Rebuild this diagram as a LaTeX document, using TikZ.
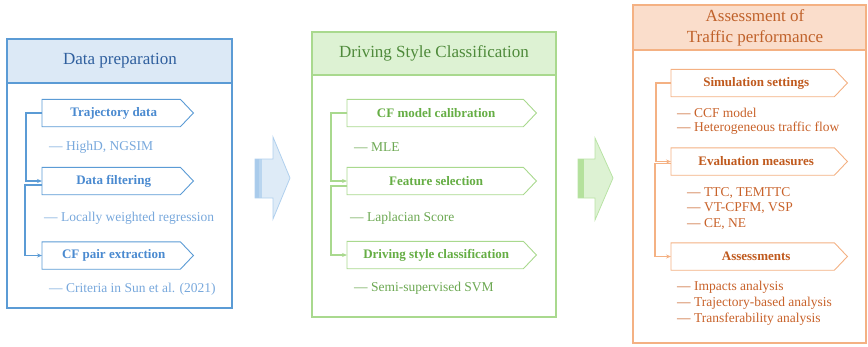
\documentclass[tikz,border=0pt]{standalone}
\usepackage{fontspec}
\setmainfont{Liberation Serif}
\usetikzlibrary{arrows.meta}

% palette
\definecolor{bBorder}{HTML}{5B9BD5}
\definecolor{bHead}{HTML}{DCE9F6}
\definecolor{bTitle}{HTML}{2F5F9E}
\definecolor{bTag}{HTML}{4A8AD0}
\definecolor{bSub}{HTML}{78A8DC}
\definecolor{bArrFill}{HTML}{DEEBF7}
\definecolor{bArrLine}{HTML}{B0D0EE}
\definecolor{bArrStrip}{HTML}{A9CBEB}

\definecolor{gBorder}{HTML}{A9D98E}
\definecolor{gHead}{HTML}{DDF2D3}
\definecolor{gTitle}{HTML}{4E8A3A}
\definecolor{gTag}{HTML}{66AE45}
\definecolor{gSub}{HTML}{6CA852}
\definecolor{gArrFill}{HTML}{DDF2D3}
\definecolor{gArrLine}{HTML}{B9E3A5}
\definecolor{gArrStrip}{HTML}{B4E19C}

\definecolor{oBorder}{HTML}{F4B183}
\definecolor{oHead}{HTML}{FADDCB}
\definecolor{oTitle}{HTML}{C0622B}
\definecolor{oTag}{HTML}{C05A1E}
\definecolor{oSub}{HTML}{C8622A}

\tikzset{
  panel/.style={draw=#1, line width=1.3pt},
  headbox/.style={fill=#1},
  title/.style={text=#1, font=\fontsize{17}{21}\selectfont, align=center, inner sep=0pt},
  tagbox/.style={text=#1, font=\bfseries\fontsize{13}{15}\selectfont,
    minimum height=27pt, inner sep=0pt, anchor=west},
  tagline/.style={draw=#1, line width=0.9pt, fill=white},
  subtext/.style={text=#1, font=\fontsize{13.5}{16}\selectfont, inner sep=0pt, anchor=west},
  link/.style={draw=#1, line width=1.1pt, -{Stealth[length=5pt,width=4pt]}},
  bigarrow/.style={fill=#1},
}
% pentagon outline behind a tag node: body rectangle plus pointed tip
\newcommand\tagedge[2]{%
  \draw[tagline=#2] (#1.north west) -- (#1.north east) -- ([xshift=13pt]#1.east)
    -- (#1.south east) -- (#1.south west) -- cycle;}

\begin{document}
\begin{tikzpicture}[x=1pt, y=-1pt]
\useasboundingbox (0,0) rectangle (868,346);

% ---------------- Data preparation ----------------
\fill[headbox=bHead] (7,39) rectangle (232,83);
\draw[panel=bBorder] (7,39) rectangle (232,308);
\draw[panel=bBorder] (7,83) -- (232,83);
\node[title=bTitle] (h1) at (120,61) {Data preparation};

\path (42,113) node[tagbox=bTag, minimum width=138pt] (a1) {};
\tagedge{a1}{bBorder}
\node[tagbox=bTag, minimum width=138pt] at (a1.west) {\hspace{5pt}Trajectory data};
\path (42,181) node[tagbox=bTag, minimum width=138pt] (a2) {};
\tagedge{a2}{bBorder}
\node[tagbox=bTag, minimum width=138pt] at (a2.west) {\hspace{5pt}Data filtering};
\path (42,255.5) node[tagbox=bTag, minimum width=138pt] (a3) {};
\tagedge{a3}{bBorder}
\node[tagbox=bTag, minimum width=138pt] at (a3.west) {\hspace{5pt}CF pair extraction};

\node[subtext=bSub] (s11) at (49,147) {— HighD, NGSIM};
\node[subtext=bSub] (s12) at (44,218) {— Locally weighted regression};
\node[subtext=bSub] (s13) at (49,289) {— Criteria in Sun et al. (2021)};

\draw[link=bBorder] (a1.west) -- ++(-16,0) |- (a2.west);
\draw[link=bBorder] ([yshift=-4pt]a2.west) -- ++(-17,0) |- (a3.west);

% ---------------- arrow 1 ----------------
\fill[bigarrow=bArrFill] (255,159) -- (273,159) -- (273,137) -- (290,178) -- (273,219) -- (273,198) -- (255,198) -- cycle;
\fill[bArrStrip] (255,159) rectangle (262,198);
\fill[bArrStrip!70!bArrFill] (259,159) rectangle (262,198);
\draw[bArrLine, line width=0.8pt] (255,159) -- (273,159) -- (273,137) -- (290,178) -- (273,219) -- (273,198) -- (255,198) -- cycle;

% ---------------- Driving Style Classification ----------------
\fill[headbox=gHead] (312,32) rectangle (556,75);
\draw[panel=gBorder] (312,32) rectangle (556,317);
\draw[panel=gBorder] (312,75) -- (556,75);
\node[title=gTitle] (h2) at (434,53) {Driving Style Classification};

\path (347,113) node[tagbox=gTag, minimum width=176pt] (b1) {};
\tagedge{b1}{gBorder}
\node[tagbox=gTag, minimum width=176pt] at (b1.west) {\hspace{2pt}CF model calibration};
\path (347,181) node[tagbox=gTag, minimum width=176pt] (b2) {};
\tagedge{b2}{gBorder}
\node[tagbox=gTag, minimum width=176pt] at (b2.west) {\hspace{2pt}Feature selection};
\path (347,255) node[tagbox=gTag, minimum width=176pt] (b3) {};
\tagedge{b3}{gBorder}
\node[tagbox=gTag, minimum width=176pt] at (b3.west) {\hspace{2pt}Driving style classification};

\node[subtext=gSub] (s21) at (354,147) {— MLE};
\node[subtext=gSub] (s22) at (350,218) {— Laplacian Score};
\node[subtext=gSub] (s23) at (354,288) {— Semi-supervised SVM};

\draw[link=gBorder] (b1.west) -- ++(-16,0) |- (b2.west);
\draw[link=gBorder] ([yshift=-5pt]b2.west) -- ++(-16,0) |- (b3.west);

% ---------------- arrow 2 ----------------
\fill[bigarrow=gArrFill] (578,159) -- (595,159) -- (595,138) -- (613,178) -- (595,220) -- (595,198) -- (578,198) -- cycle;
\fill[gArrStrip] (578,159) rectangle (584,198);
\draw[gArrLine, line width=0.8pt] (578,159) -- (595,159) -- (595,138) -- (613,178) -- (595,220) -- (595,198) -- (578,198) -- cycle;

% ---------------- Assessment of traffic performance ----------------
\fill[headbox=oHead] (633,5) rectangle (866,50);
\draw[panel=oBorder] (633,5) rectangle (866,343);
\draw[panel=oBorder] (633,50) -- (866,50);
\node[title=oTitle] (h3) at (755,27.5) {Assessment of\\Traffic performance};

\path (671,83) node[tagbox=oTag, minimum width=163pt] (c1) {};
\tagedge{c1}{oBorder}
\node[tagbox=oTag, minimum width=163pt] at (c1.west) {\hspace{7pt}Simulation settings};
\path (671,161.5) node[tagbox=oTag, minimum width=163pt] (c2) {};
\tagedge{c2}{oBorder}
\node[tagbox=oTag, minimum width=163pt] at (c2.west) {\hspace{7pt}Evaluation measures};
\path (671,256.5) node[tagbox=oTag, minimum width=163pt] (c3) {};
\tagedge{c3}{oBorder}
\node[tagbox=oTag, minimum width=163pt] at (c3.west) {\hspace{7pt}Assessments};

\node[subtext=oSub] (s31) at (677,113) {— CCF model};
\node[subtext=oSub] (s32) at (677,128) {— Heterogeneous traffic flow};
\node[subtext=oSub] (s33) at (687,193) {— TTC, TEMTTC};
\node[subtext=oSub] (s34) at (687,208) {— VT-CPFM, VSP};
\node[subtext=oSub] (s35) at (687,224) {— CE, NE};
\node[subtext=oSub] (s36) at (677,287) {— Impacts analysis};
\node[subtext=oSub] (s37) at (677,303) {— Trajectory-based analysis};
\node[subtext=oSub] (s38) at (677,319) {— Transferability analysis};

\draw[link=oBorder] (c1.west) -- ++(-15,0) |- (c2.west);
\draw[link=oBorder] ([yshift=-2pt]c2.west) -- ++(-16,0) |- (c3.west);
\end{tikzpicture}
\end{document}
